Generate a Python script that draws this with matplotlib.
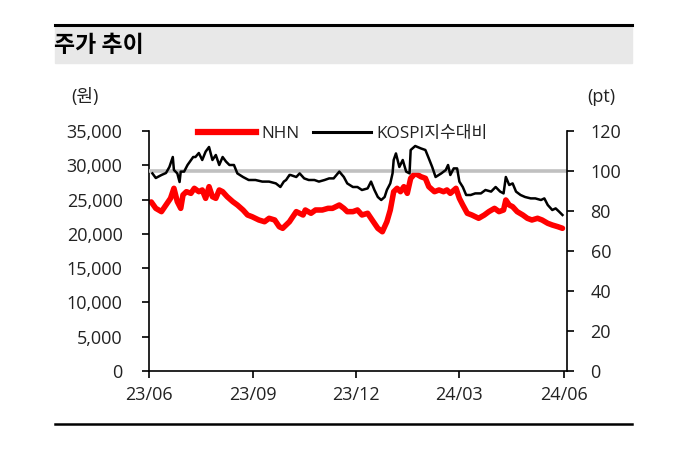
import matplotlib
matplotlib.use("Agg")
import matplotlib.pyplot as plt
from matplotlib.lines import Line2D
import pandas as pd

plt.rcParams['font.family'] = ['Open Sans', 'Noto Sans CJK KR', 'DejaVu Sans']

# ---------------- data ----------------
nhn_dates = [
    "2023-06-03", "2023-06-07", "2023-06-12", "2023-06-16", "2023-06-20", "2023-06-23", "2023-06-26",
    "2023-06-29", "2023-07-01", "2023-07-04", "2023-07-08", "2023-07-11", "2023-07-15", "2023-07-18",
    "2023-07-21", "2023-07-24", "2023-07-27", "2023-07-30", "2023-08-02", "2023-08-05", "2023-08-09",
    "2023-08-14", "2023-08-18", "2023-08-23", "2023-08-27", "2023-08-31", "2023-09-06", "2023-09-11",
    "2023-09-15", "2023-09-20", "2023-09-24", "2023-09-27", "2023-09-30", "2023-10-03", "2023-10-04",
    "2023-10-09", "2023-10-15", "2023-10-17", "2023-10-22", "2023-10-26", "2023-11-01", "2023-11-06",
    "2023-11-10", "2023-11-16", "2023-11-20", "2023-11-23", "2023-11-28", "2023-12-02", "2023-12-06",
    "2023-12-11", "2023-12-15", "2023-12-20", "2023-12-24", "2023-12-28", "2023-12-31", "2024-01-03",
    "2024-01-06", "2024-01-09", "2024-01-12", "2024-01-15", "2024-01-18", "2024-01-22", "2024-01-27",
    "2024-01-31", "2024-02-03", "2024-02-08", "2024-02-12", "2024-02-16", "2024-02-19", "2024-02-22",
    "2024-02-27", "2024-03-01", "2024-03-04", "2024-03-08", "2024-03-12", "2024-03-18", "2024-03-23",
    "2024-03-27", "2024-04-01", "2024-04-05", "2024-04-09", "2024-04-11", "2024-04-14", "2024-04-17",
    "2024-04-21", "2024-04-26", "2024-04-30", "2024-05-04", "2024-05-09", "2024-05-13", "2024-05-18",
    "2024-05-22", "2024-05-27", "2024-05-31",
]
nhn_price = [
    24650, 23720, 23240, 24210, 25180, 26640, 24690,
    23720, 25670, 26150, 25910, 26640, 26150, 26400,
    25180, 26880, 25420, 25180, 26400, 26150, 25420,
    24690, 24210, 23480, 22750, 22500, 22020, 21770,
    22270, 22020, 21040, 20810, 21290, 21770, 22020,
    23240, 22750, 23480, 23000, 23480, 23480, 23720,
    23720, 24210, 23720, 23240, 23240, 23480, 22750,
    23000, 22020, 20810, 20310, 21770, 23480, 26150,
    26640, 26150, 26880, 25910, 28100, 28830, 28340,
    28100, 26880, 26150, 26400, 26150, 26400, 25910,
    26640, 25180, 24210, 23000, 22750, 22270, 22750,
    23240, 23720, 23240, 23480, 24940, 24210, 23960,
    23240, 22750, 22270, 22020, 22270, 22020, 21540,
    21290, 21040, 20810,
]

kospi_dates = [
    "2023-06-04", "2023-06-07", "2023-06-12", "2023-06-16", "2023-06-19", "2023-06-22", "2023-06-23",
    "2023-06-26", "2023-06-28", "2023-06-29", "2023-07-02", "2023-07-05", "2023-07-10", "2023-07-12",
    "2023-07-15", "2023-07-18", "2023-07-21", "2023-07-24", "2023-07-27", "2023-07-30", "2023-08-02",
    "2023-08-05", "2023-08-08", "2023-08-11", "2023-08-15", "2023-08-18", "2023-08-23", "2023-08-28",
    "2023-09-03", "2023-09-09", "2023-09-15", "2023-09-21", "2023-09-25", "2023-09-28", "2023-09-30",
    "2023-10-03", "2023-10-04", "2023-10-09", "2023-10-12", "2023-10-16", "2023-10-20", "2023-10-25",
    "2023-10-29", "2023-11-03", "2023-11-07", "2023-11-11", "2023-11-16", "2023-11-20", "2023-11-23",
    "2023-11-28", "2023-12-02", "2023-12-06", "2023-12-11", "2023-12-14", "2023-12-17", "2023-12-20",
    "2023-12-23", "2023-12-26", "2023-12-28", "2023-12-31", "2024-01-02", "2024-01-03", "2024-01-05",
    "2024-01-08", "2024-01-11", "2024-01-14", "2024-01-17", "2024-01-18", "2024-01-22", "2024-01-27",
    "2024-01-31", "2024-02-03", "2024-02-06", "2024-02-09", "2024-02-14", "2024-02-18", "2024-02-20",
    "2024-02-22", "2024-02-25", "2024-02-28", "2024-03-01", "2024-03-04", "2024-03-07", "2024-03-11",
    "2024-03-15", "2024-03-20", "2024-03-24", "2024-03-29", "2024-04-02", "2024-04-06", "2024-04-09",
    "2024-04-11", "2024-04-14", "2024-04-17", "2024-04-20", "2024-04-24", "2024-04-28", "2024-05-03",
    "2024-05-07", "2024-05-12", "2024-05-15", "2024-05-18", "2024-05-22", "2024-05-25", "2024-05-28",
    "2024-05-31",
]
kospi_rel = [
    98.8, 96.5, 98.0, 99.0, 102.0, 107.0, 100.5,
    98.8, 94.5, 99.7, 99.7, 103.0, 107.0, 107.0,
    109.0, 105.5, 109.7, 112.0, 105.5, 108.0, 103.0,
    107.0, 104.7, 103.0, 103.0, 98.8, 97.0, 95.5,
    95.5, 94.7, 94.7, 93.8, 92.0, 94.7, 95.5,
    98.0, 98.0, 97.0, 98.8, 96.3, 95.5, 95.5,
    94.7, 95.5, 96.3, 96.3, 99.7, 97.0, 93.8,
    92.0, 92.0, 90.5, 91.3, 94.7, 90.5, 87.0,
    85.5, 87.0, 90.5, 93.8, 98.8, 105.5, 108.8,
    102.0, 105.5, 99.7, 98.8, 110.5, 112.5, 111.3,
    110.5, 106.3, 102.0, 97.0, 98.8, 100.5, 103.0,
    98.0, 101.3, 101.3, 94.7, 92.0, 88.0, 88.0,
    88.8, 88.8, 90.5, 89.7, 92.0, 89.7, 88.8,
    97.0, 93.0, 93.8, 89.7, 88.0, 87.0, 86.3,
    86.3, 85.5, 86.3, 83.0, 80.5, 81.3, 79.7,
    78.0,
]

left_ticks = [0, 5000, 10000, 15000, 20000, 25000, 30000, 35000]
right_ticks = [0, 20, 40, 60, 80, 100, 120]
x_tick_dates = ["2023-06-01", "2023-09-01", "2023-12-01", "2024-03-01", "2024-06-01"]
x_tick_labels = ["23/06", "23/09", "23/12", "24/03", "24/06"]
baseline = 100

title_text = "주가 추이"
left_unit = "(원)"
right_unit = "(pt)"
series_names = ["NHN", "KOSPI지수대비"]

# ---------------- figure ----------------
W, H = 684, 454
fig = plt.figure(figsize=(W / 100, H / 100), dpi=100)
TXT = "#222222"

# header band and rules
fig.patches.append(plt.Rectangle((55 / W, 1 - 63 / H), (632 - 55) / W, (63 - 26) / H,
                                 transform=fig.transFigure, color="#e8e8e8", zorder=0))
fig.add_artist(Line2D([55 / W, 632 / W], [1 - 25 / H, 1 - 25 / H], color="black", lw=2.2))
fig.add_artist(Line2D([55 / W, 632 / W], [1 - 424 / H, 1 - 424 / H], color="black", lw=1.8))
fig.text(54 / W, 1 - 46 / H, title_text, fontsize=16.5, fontweight="bold", va="center", ha="left",
         family=['Noto Sans CJK KR', 'DejaVu Sans'])
fig.text(85 / W, 1 - 97 / H, left_unit, fontsize=13, va="center", ha="center", color=TXT)
fig.text(601 / W, 1 - 97 / H, right_unit, fontsize=13, va="center", ha="center", color=TXT)

ax = fig.add_axes([149 / W, 83 / H, 418 / W, 240 / H])
ax2 = ax.twinx()

nd = pd.to_datetime(nhn_dates)
kd = pd.to_datetime(kospi_dates)

ax2.axhline(baseline, color="#c0c0c0", lw=2.6, zorder=1)
ax2.plot(kd, kospi_rel, color="black", lw=1.8, zorder=3)
ax.plot(nd, nhn_price, color="#ff0000", lw=4.0, solid_capstyle="round", zorder=2)

ax.set_ylim(0, 35000)
ax2.set_ylim(0, 120)
ax.set_xlim(pd.Timestamp("2023-06-01"), pd.Timestamp("2024-06-04"))

ax.set_yticks(left_ticks)
ax.set_yticklabels([f"{v:,}" for v in left_ticks])
ax2.set_yticks(right_ticks)
ax2.set_yticklabels([str(v) for v in right_ticks])
ax.set_xticks(pd.to_datetime(x_tick_dates))
ax.set_xticklabels(x_tick_labels)

for a in (ax, ax2):
    a.spines["top"].set_visible(False)
    for s in a.spines.values():
        s.set_linewidth(1.2)
        s.set_color("black")
ax.spines["right"].set_visible(False)
ax2.spines["left"].set_visible(False)
ax2.spines["bottom"].set_visible(False)

ax.tick_params(axis="y", direction="out", length=5, width=1.2, pad=14, labelsize=13, labelcolor=TXT)
ax2.tick_params(axis="y", direction="out", length=5, width=1.2, pad=12, labelsize=13, labelcolor=TXT)
ax.tick_params(axis="x", direction="out", length=5, width=1.2, pad=6, labelsize=13, labelcolor=TXT)
ax.patch.set_visible(False)
ax2.patch.set_visible(False)
ax.set_zorder(ax2.get_zorder() - 1)

handles = [Line2D([], [], color="#ff0000", lw=4.5),
           Line2D([], [], color="black", lw=2.2)]
leg = ax2.legend(handles, series_names, loc="upper left", bbox_to_anchor=(42 / 418, 1.05),
                 ncol=2, frameon=False, fontsize=12.3, handlelength=3.4, handletextpad=0.3,
                 columnspacing=0.8, borderaxespad=0)
for t in leg.get_texts():
    t.set_color(TXT)

fig.savefig("out.png", dpi=100)
